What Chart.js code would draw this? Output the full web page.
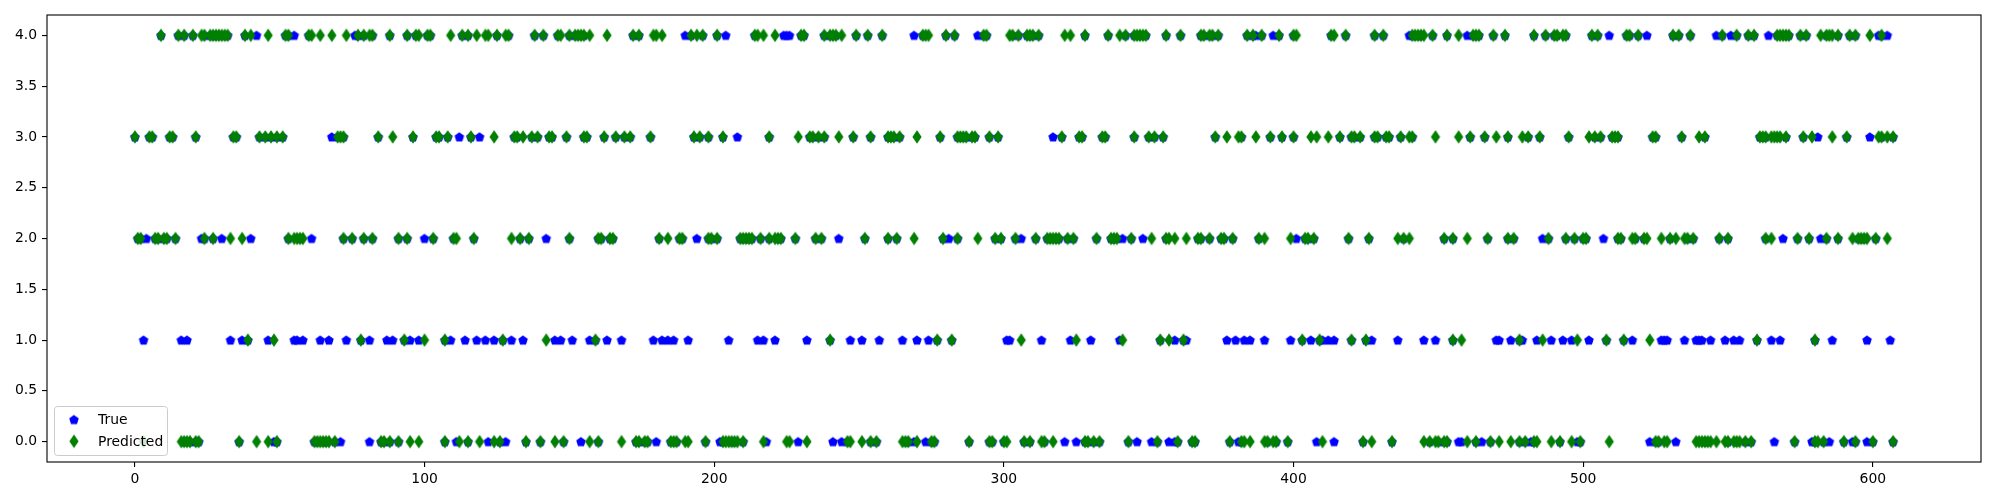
<!DOCTYPE html>
<html>
<head>
<meta charset="utf-8">
<script src="https://cdn.jsdelivr.net/npm/chart.js@4.4.1/dist/chart.umd.min.js"></script>
<style>
  body { margin: 0; background: #fff; }
</style>
</head>
<body>
<canvas id="plot" width="2000" height="500"></canvas>
<script>
// sample index where the model predicted each class (green diamonds)
const predRow0 = [3, 16, 17, 18, 19, 21, 22, 36, 42, 46, 49, 62, 63, 64, 65, 66, 67, 69, 85, 86, 88, 91, 95, 98, 107, 112, 115, 119, 124, 126, 135, 140, 145, 148, 157, 160, 168, 173, 174, 176, 177, 185, 186, 187, 190, 191, 197, 203, 204, 205, 206, 207, 208, 210, 217, 225, 226, 232, 246, 247, 251, 254, 256, 265, 266, 267, 270, 275, 276, 288, 295, 296, 300, 301, 307, 309, 313, 314, 317, 328, 329, 331, 333, 343, 353, 360, 365, 366, 378, 382, 383, 385, 390, 391, 393, 394, 398, 410, 424, 427, 434, 445, 447, 449, 450, 452, 453, 460, 463, 468, 471, 475, 478, 480, 483, 484, 489, 492, 496, 499, 509, 525, 526, 528, 529, 539, 540, 541, 542, 543, 544, 546, 549, 550, 552, 553, 554, 556, 558, 573, 580, 581, 583, 590, 594, 600, 607];
const predRow1 = [39, 48, 78, 93, 100, 107, 127, 142, 159, 240, 277, 282, 306, 325, 341, 354, 357, 362, 403, 409, 420, 425, 455, 458, 478, 486, 498, 508, 514, 523, 560, 580];
const predRow2 = [1, 2, 7, 8, 10, 11, 14, 24, 27, 33, 37, 53, 55, 56, 57, 58, 72, 75, 79, 82, 91, 94, 103, 110, 111, 117, 130, 133, 136, 150, 160, 161, 164, 165, 181, 184, 188, 189, 198, 199, 201, 209, 210, 211, 212, 213, 216, 219, 221, 222, 223, 228, 235, 237, 252, 260, 263, 269, 279, 284, 291, 297, 299, 304, 311, 315, 316, 317, 318, 319, 322, 324, 332, 337, 338, 339, 344, 351, 356, 357, 359, 363, 367, 368, 371, 375, 376, 379, 388, 390, 399, 404, 405, 407, 419, 426, 436, 438, 440, 452, 455, 460, 467, 474, 476, 488, 494, 497, 500, 501, 512, 513, 517, 518, 521, 522, 527, 530, 532, 535, 536, 538, 547, 550, 563, 565, 574, 578, 584, 588, 593, 595, 596, 597, 598, 601, 605];
const predRow3 = [0, 5, 6, 12, 13, 21, 34, 35, 43, 45, 47, 49, 51, 70, 71, 72, 84, 89, 96, 104, 105, 108, 116, 124, 131, 132, 134, 137, 139, 143, 144, 149, 155, 156, 162, 166, 169, 171, 178, 193, 195, 198, 203, 219, 229, 233, 234, 236, 238, 243, 248, 254, 260, 261, 262, 264, 270, 278, 284, 285, 286, 287, 289, 290, 295, 298, 320, 326, 327, 334, 335, 345, 350, 352, 355, 373, 377, 381, 382, 387, 392, 396, 400, 406, 408, 412, 416, 420, 421, 423, 428, 429, 432, 433, 437, 440, 441, 449, 457, 461, 466, 470, 474, 479, 481, 485, 495, 502, 504, 506, 510, 511, 512, 524, 525, 534, 540, 542, 561, 562, 563, 565, 566, 567, 568, 570, 576, 579, 586, 591, 602, 603, 605, 607];
const predRow4 = [9, 15, 17, 20, 23, 24, 26, 27, 28, 29, 30, 31, 32, 38, 40, 46, 52, 53, 60, 61, 64, 68, 73, 77, 79, 81, 82, 88, 94, 97, 98, 101, 102, 109, 113, 115, 118, 121, 122, 125, 128, 129, 138, 141, 146, 147, 150, 152, 153, 154, 155, 157, 163, 172, 174, 179, 180, 182, 192, 194, 196, 201, 214, 215, 217, 221, 230, 231, 238, 240, 241, 242, 244, 249, 253, 258, 272, 273, 274, 280, 283, 293, 294, 302, 303, 305, 308, 309, 310, 312, 321, 323, 328, 336, 340, 342, 345, 346, 347, 348, 349, 356, 361, 368, 369, 371, 372, 374, 384, 386, 389, 395, 400, 401, 413, 414, 418, 428, 431, 441, 442, 443, 444, 445, 448, 453, 457, 462, 463, 464, 469, 473, 483, 487, 490, 491, 493, 494, 503, 505, 515, 516, 519, 531, 533, 537, 548, 553, 557, 559, 567, 568, 569, 570, 571, 575, 577, 582, 584, 585, 586, 588, 592, 594, 599, 603];

// samples whose true class differs from the prediction (blue pentagons left visible)
const missRow0 = [48, 71, 81, 111, 122, 128, 154, 180, 202, 218, 229, 241, 244, 269, 273, 321, 325, 346, 351, 357, 359, 381, 408, 414, 457, 458, 465, 482, 498, 523, 532, 566, 579, 585, 593, 598];
const missRow1 = [3, 16, 18, 33, 37, 46, 55, 56, 58, 64, 67, 73, 81, 87, 89, 95, 98, 109, 114, 118, 121, 124, 130, 134, 145, 147, 151, 157, 163, 168, 179, 182, 184, 186, 191, 205, 215, 217, 221, 232, 247, 251, 257, 265, 270, 274, 301, 302, 313, 323, 330, 340, 359, 363, 377, 380, 383, 385, 390, 399, 406, 410, 412, 414, 427, 436, 445, 449, 470, 471, 475, 479, 484, 489, 493, 496, 502, 517, 527, 528, 529, 535, 539, 540, 541, 544, 549, 552, 554, 565, 568, 586, 598, 606];
const missRow2 = [4, 23, 30, 40, 61, 100, 142, 194, 243, 281, 306, 341, 348, 401, 486, 507, 569, 582];
const missRow3 = [68, 112, 119, 208, 317, 581, 599];
const missRow4 = [42, 55, 76, 190, 204, 224, 225, 226, 269, 291, 387, 393, 440, 460, 509, 522, 546, 551, 564, 602, 605];

const classes = [0, 1, 2, 3, 4];
const xTicks = [0, 100, 200, 300, 400, 500, 600];
const yTicks = [0, 0.5, 1, 1.5, 2, 2.5, 3, 3.5, 4];

const predRows = [predRow0, predRow1, predRow2, predRow3, predRow4];
const missRows = [missRow0, missRow1, missRow2, missRow3, missRow4];

// true label = prediction unless a differing true label is shown elsewhere
let missed = new Set(missRows.flat());
let trueRows = classes.map(k => predRows[k].filter(i => !missed.has(i)).concat(missRows[k]));

let toPoints = (rows) => rows.flatMap((idx, k) => idx.map(i => ({x: i, y: classes[k]})));

let makeMarker = (w, h, path, color) => {
    let c = document.createElement('canvas');
    c.width = w;
    c.height = h;
    let g = c.getContext('2d');
    g.translate(w / 2, h / 2);
    g.beginPath();
    path(g);
    g.closePath();
    g.fillStyle = color;
    g.fill();
    g.lineWidth = 1.39;
    g.strokeStyle = color;
    g.stroke();
    return c;
}

let pentagon = makeMarker(12, 12, (g) => {
    let r = 4.17;
    for (let i = 0; i < 5; i++) {
        let a = -Math.PI / 2 + i * 2 * Math.PI / 5;
        g.lineTo(r * Math.cos(a), r * Math.sin(a) + 0.4);
    }
}, '#0000ff');

let diamond = makeMarker(12, 16, (g) => {
    g.moveTo(0, -5.6);
    g.lineTo(3.8, 0);
    g.lineTo(0, 5.6);
    g.lineTo(-3.8, 0);
}, '#008000');

const frame = {
    id: 'frame',
    afterDraw(chart) {
        let {ctx, chartArea: a} = chart;
        ctx.save();
        ctx.strokeStyle = '#000';
        ctx.lineWidth = 1.1;
        ctx.strokeRect(a.left, a.top, a.right - a.left, a.bottom - a.top);
        ctx.restore();
    }
};

const insideLegend = {
    id: 'insideLegend',
    afterDraw(chart) {
        let {ctx, chartArea: a} = chart;
        let x0 = a.left + 7, bottom = a.bottom - 7;
        let w = 113, h = 49;
        ctx.save();
        ctx.beginPath();
        ctx.roundRect(x0 + 0.5, bottom - h + 0.5, w, h, 3);
        ctx.fillStyle = 'rgba(255,255,255,0.8)';
        ctx.fill();
        ctx.strokeStyle = '#cccccc';
        ctx.lineWidth = 1;
        ctx.stroke();
        let items = [['True', pentagon, bottom - 35.4], ['Predicted', diamond, bottom - 13.7]];
        ctx.font = '13.9px "DejaVu Sans"';
        ctx.fillStyle = '#000';
        ctx.textBaseline = 'middle';
        for (let [label, img, y] of items) {
            ctx.drawImage(img, x0 + 20 - img.width / 2, y - img.height / 2);
            ctx.fillText(label, x0 + 44, y + 1);
        }
        ctx.restore();
    }
};

Chart.defaults.font.family = '"DejaVu Sans", sans-serif';
Chart.defaults.font.size = 13.9;
Chart.defaults.color = '#000';

let tickGrid = {display: true, drawOnChartArea: false, drawTicks: true, tickLength: 5, color: '#000', lineWidth: 1.1};

new Chart(document.getElementById('plot'), {
    type: 'scatter',
    data: {
        datasets: [
            {label: 'True', data: toPoints(trueRows), pointStyle: pentagon, pointRadius: 5, order: 1},
            {label: 'Predicted', data: toPoints(predRows), pointStyle: diamond, pointRadius: 5, order: 0}
        ]
    },
    options: {
        responsive: false,
        animation: false,
        layout: {padding: {left: 0, top: 15, right: 19, bottom: 0}},
        plugins: {legend: {display: false}, tooltip: {enabled: false}},
        scales: {
            x: {
                type: 'linear',
                min: -30.35,
                max: 637.35,
                border: {display: false},
                grid: tickGrid,
                afterBuildTicks: (s) => { s.ticks = xTicks.map(v => ({value: v})); },
                afterFit: (s) => { s.height = 38; },
                ticks: {padding: 4, maxRotation: 0, callback: (v) => String(v)}
            },
            y: {
                type: 'linear',
                min: -0.2,
                max: 4.2,
                border: {display: false},
                grid: tickGrid,
                afterBuildTicks: (s) => { s.ticks = yTicks.map(v => ({value: v})); },
                afterFit: (s) => { s.width = 47; },
                ticks: {padding: 5, callback: (v) => v.toFixed(1)}
            }
        }
    },
    plugins: [frame, insideLegend]
});
</script>
</body>
</html>
